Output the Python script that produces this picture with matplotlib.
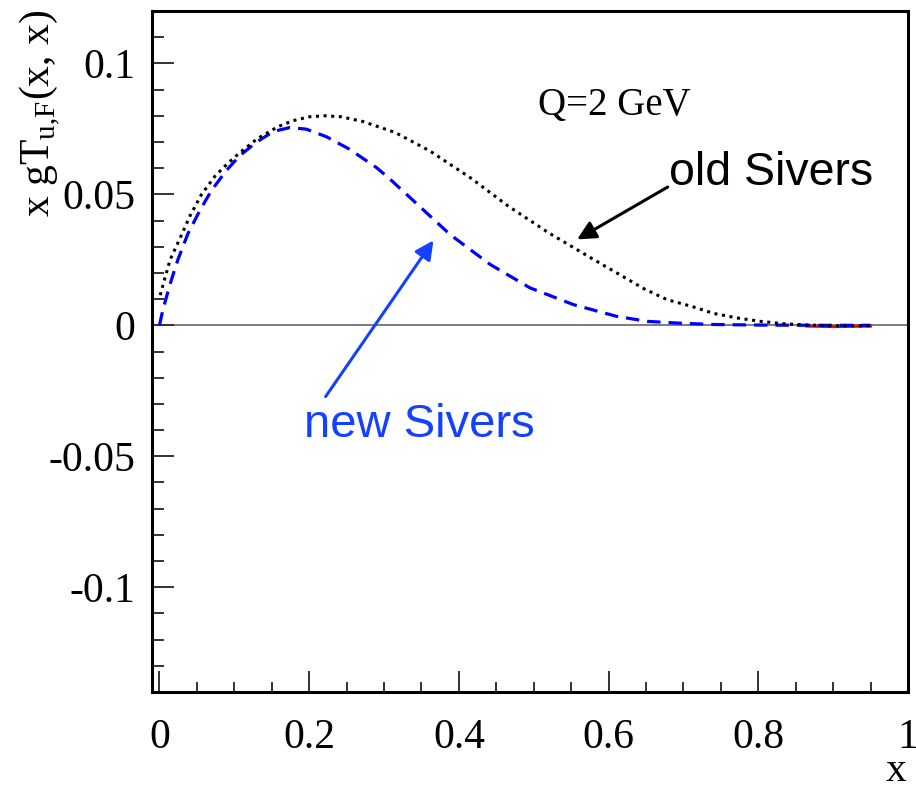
import matplotlib
matplotlib.use("Agg")
import matplotlib.pyplot as plt
from matplotlib.ticker import MultipleLocator, FixedLocator

# ---- data ----
old_x = [0.001, 0.0054, 0.0143, 0.0277, 0.0406, 0.0558, 0.074, 0.090, 0.106, 0.131,
         0.158, 0.178, 0.200, 0.221, 0.243, 0.272, 0.315, 0.361, 0.415, 0.466,
         0.520, 0.576, 0.647, 0.678, 0.710, 0.741, 0.772, 0.803, 0.834, 0.866,
         0.90, 0.95]
old_y = [0.0115, 0.0162, 0.0251, 0.0334, 0.0417, 0.0498, 0.0569, 0.0615, 0.0656, 0.0713,
         0.0758, 0.0781, 0.0796, 0.0800, 0.0796, 0.0778, 0.0736, 0.0666, 0.0564, 0.0455,
         0.0353, 0.0258, 0.0140, 0.0098, 0.0073, 0.0045, 0.0028, 0.0015, 0.0006, 0.0001,
         -0.0002, -0.0002]

new_x = [0.0, 0.003, 0.008, 0.015, 0.0245, 0.038, 0.0535, 0.069, 0.089, 0.107,
         0.129, 0.152, 0.174, 0.196, 0.223, 0.254, 0.290, 0.308, 0.335, 0.388,
         0.442, 0.495, 0.553, 0.611, 0.652, 0.696, 0.741, 0.80, 0.87, 0.95]
new_y = [0.0, 0.004, 0.0095, 0.0165, 0.0250, 0.0350, 0.0436, 0.0513, 0.0590, 0.0647,
         0.0698, 0.0740, 0.0755, 0.0749, 0.0720, 0.0672, 0.0602, 0.0558, 0.0487, 0.0347,
         0.0232, 0.0143, 0.0079, 0.0034, 0.0015, 0.0008, 0.0003, 0.0001, 0.0, 0.0]

red_x = [0.865, 0.90, 0.95]
red_y = [-0.0003, -0.0005, -0.0003]

xticks_major = [0, 0.2, 0.4, 0.6, 0.8, 1.0]
xtick_labels = ["0", "0.2", "0.4", "0.6", "0.8", "1"]
yticks_major = [-0.1, -0.05, 0, 0.05, 0.1]
ytick_labels = ["-0.1", "-0.05", "0", "0.05", "0.1"]

serif = ["Liberation Serif", "DejaVu Serif"]
sans = ["Liberation Sans", "DejaVu Sans"]
blue_txt = "#1440ff"

fig = plt.figure(figsize=(9.16, 7.92), dpi=100)
ax = fig.add_axes([152/916, 1-692/792, (908-152)/916, (692-11)/792])

ax.axhline(0, color="#666666", lw=1.2, zorder=1)
ax.plot(red_x, red_y, color="red", lw=2.2, zorder=2)
ax.plot(new_x, new_y, color="#0000ff", lw=2.3, linestyle=(0, (4.2, 2.5)), zorder=3)
ax.plot(old_x, old_y, color="black", lw=2.2, linestyle=(0, (1, 1.5)), zorder=4)

ax.set_xlim(-0.01, 1.0)
ax.set_ylim(-0.14, 0.12)

ax.xaxis.set_major_locator(FixedLocator(xticks_major))
ax.xaxis.set_minor_locator(MultipleLocator(0.05))
ax.yaxis.set_major_locator(FixedLocator(yticks_major))
ax.yaxis.set_minor_locator(MultipleLocator(0.01))
ax.set_xticklabels(xtick_labels, fontfamily=serif, fontsize=30)
ax.set_yticklabels(ytick_labels, fontfamily=serif, fontsize=30)

ax.tick_params(axis="both", which="both", direction="in", top=False, right=False,
               color="#333333", width=1.4)
ax.tick_params(axis="x", which="major", length=15, pad=19)
ax.tick_params(axis="x", which="minor", length=7.5)
ax.tick_params(axis="y", which="major", length=16, pad=12)
ax.tick_params(axis="y", which="minor", length=8.5)

for s in ax.spines.values():
    s.set_linewidth(2.2)

# axis titles
fig.text(40/916, 1-10/792, r"x gT$_{\mathregular{u{,}F}}$(x, x)", rotation=90,
         ha="center", va="top", fontfamily=serif, fontsize=30)
fig.text(906/916, 1-790/792, "x", ha="right", va="bottom",
         fontfamily=serif, fontsize=30)

# annotations
ax.text(0.608, 0.0838, "Q=2 GeV", ha="center", va="center",
        fontfamily=serif, fontsize=28)
ax.text(0.817, 0.058, "old Sivers", ha="center", va="center",
        fontfamily=sans, fontsize=33.5, color="black")
ax.text(0.347, -0.038, "new Sivers", ha="center", va="center",
        fontfamily=sans, fontsize=34, color=blue_txt)

ax.annotate("", xy=(0.558, 0.0328), xytext=(0.679, 0.0528),
            arrowprops=dict(arrowstyle="-|>", color="black", lw=2.2,
                            mutation_scale=28, shrinkA=0, shrinkB=0))
ax.annotate("", xy=(0.366, 0.0324), xytext=(0.222, -0.0272),
            arrowprops=dict(arrowstyle="-|>", color=blue_txt, lw=2.2,
                            mutation_scale=28, shrinkA=0, shrinkB=0))

fig.savefig("out.png", dpi=100)
